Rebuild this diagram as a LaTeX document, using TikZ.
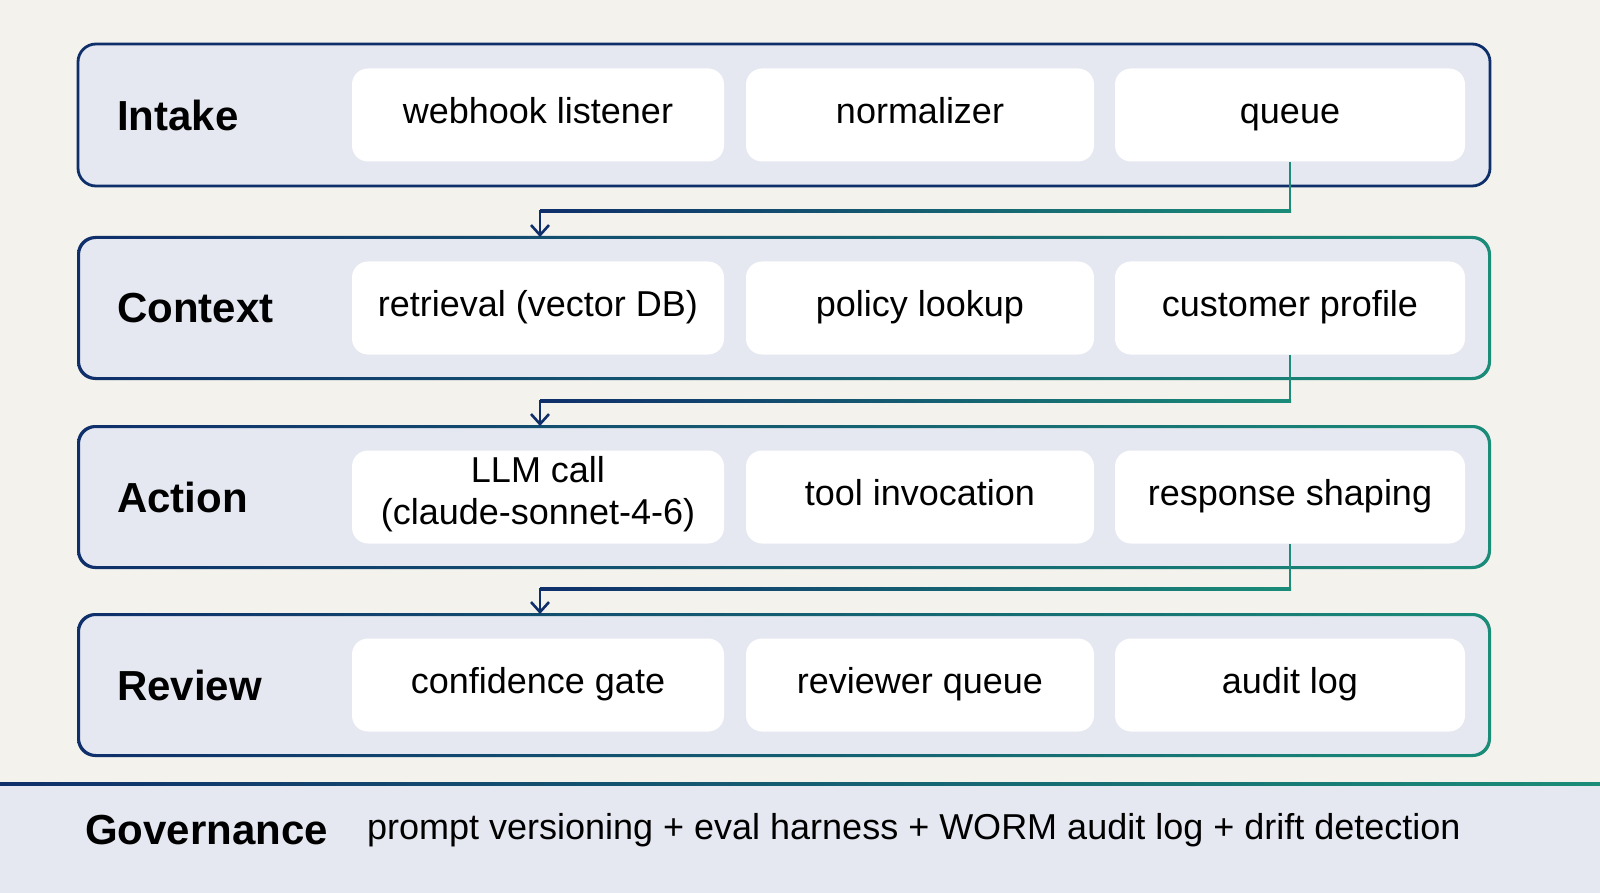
\documentclass[tikz,border=0pt]{standalone}
\usepackage{fontspec}
\setmainfont{Liberation Sans}
\usetikzlibrary{arrows.meta}
\begin{document}
\definecolor{bg}{HTML}{F3F2EC}
\definecolor{band}{HTML}{E5E8F1}
\definecolor{navy}{HTML}{0F2F6B}
\definecolor{teal}{HTML}{1A8C78}
\begin{tikzpicture}[x=0.5pt,y=-0.5pt,
  card/.style={fill=white,rounded corners=8pt,inner sep=0pt,font=\fontsize{18}{21}\selectfont,align=center,execute at begin node=\strut},
  lab/.style={anchor=west,font=\bfseries\fontsize{21}{24}\selectfont},
  conn/.style={line width=1.3pt}]
\fill[bg] (0,0) rectangle (1600,893);
\useasboundingbox (0,0) rectangle (1600,893);
% bands
\newcommand{\band}[4]{% y1,y2,leftcolor,name
  \fill[band,rounded corners=9pt] (78,#1) rectangle (1490,#2);
  \shade[left color=#3,right color=teal,even odd rule]
    [rounded corners=9pt] (77,#1-1) rectangle (1491,#2+1)
    [rounded corners=8pt] (80,#1+2) rectangle (1488,#2-2);
  \coordinate (#4) at (78,{(#1+#2)/2});
}
\fill[band,rounded corners=9pt] (78,44) rectangle (1490,186);
\draw[navy,line width=1.4pt,rounded corners=9pt] (78,44) rectangle (1490,186);
\coordinate (b1) at (78,115);
\band{237}{379}{navy}{b2}
\band{426}{568}{navy}{b3}
\band{614}{756}{navy}{b4}
% labels
\node[lab] (l1) at (110,115) {Intake};
\node[lab] (l2) at (110,308) {Context};
\node[lab] (l3) at (110,497) {Action};
\node[lab] (l4) at (110,685) {Review};
% cards
\newcommand{\cardrow}[5]{% yc, name prefix, t1,t2,t3
  \node[card,minimum width=186pt,minimum height=46.5pt] (#2a) at (538,#1) {#3};
  \node[card,minimum width=174pt,minimum height=46.5pt] (#2b) at (920,#1) {#4};
  \node[card,minimum width=175pt,minimum height=46.5pt] (#2c) at (1290,#1) {#5};
}
\cardrow{115}{i}{webhook listener}{normalizer}{queue}
\cardrow{308}{c}{retrieval (vector DB)}{policy lookup}{customer profile}
\cardrow{497}{a}{LLM call\\\strut(claude-sonnet-4-6)}{tool invocation}{response shaping}
\cardrow{685}{r}{confidence gate}{reviewer queue}{audit log}
% connectors
\coordinate (t2) at (540,237);
\coordinate (t3) at (540,426);
\coordinate (t4) at (540,614);
\newcommand{\conn}[3]{% from card, y mid, target
  \draw[conn,teal] (#1.south) -- (#1.south|-0,#2);
  \shade[left color=navy,right color=teal] (540,#2-1.3) rectangle (1291,#2+1.3);
  \draw[conn,navy,-{Straight Barb[length=5pt,width=9pt]}] (540,#2-1.3) -- (#3);
}
\conn{ic}{211}{t2}
\conn{cc}{401}{t3}
\conn{ac}{589}{t4}
% governance
\fill[band] (0,784) rectangle (1600,893);
\shade[left color=navy,right color=teal] (0,782) rectangle (1600,785);
\node[lab] (g) at (78,830) {Governance};
\node[anchor=west,font=\fontsize{18}{21}\selectfont] (gt) at (360,830) {prompt versioning + eval harness + WORM audit log + drift detection};
\end{tikzpicture}
\end{document}
